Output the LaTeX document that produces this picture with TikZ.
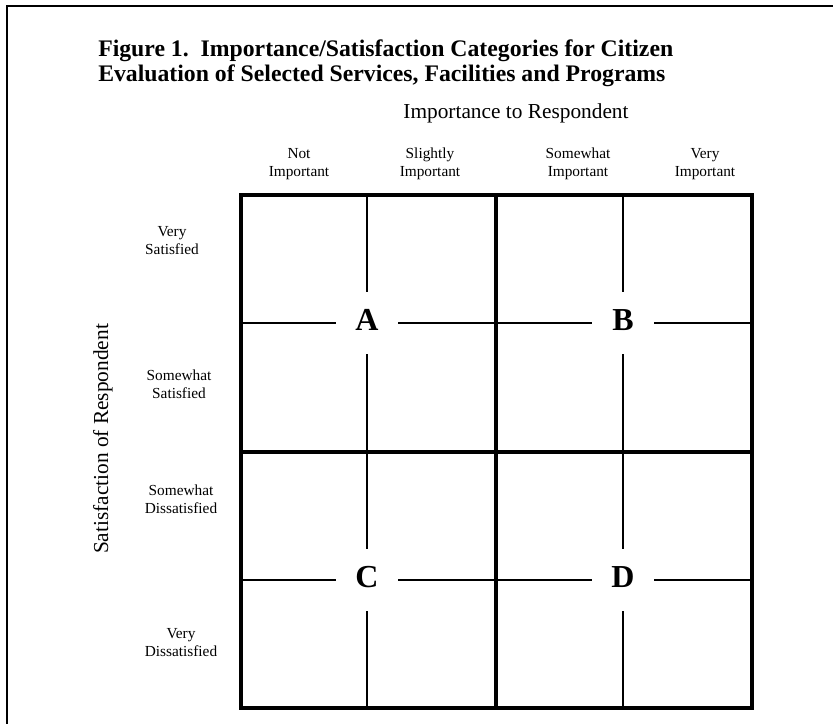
\documentclass[tikz,border=0pt]{standalone}
\usepackage{fontspec}
\setmainfont{Liberation Serif}
\usetikzlibrary{positioning, calc}

\begin{document}
\begin{tikzpicture}[
    x=0.75pt, y=-0.75pt,
    frame_line/.style={line width=1.6pt},
    grid_edge/.style={line width=2.8pt, line cap=rect},
    half_line/.style={line width=3pt},
    quarter_line/.style={line width=1.5pt},
    title_node/.style={font=\fontsize{17.8}{18}\selectfont\bfseries, anchor=base west, inner sep=0pt},
    axis_node/.style={font=\fontsize{16}{18}\selectfont, anchor=base, inner sep=0pt},
    level_node/.style={font=\fontsize{11.5}{13.5}\selectfont, align=center, inner sep=0pt},
    cat_node/.style={font=\fontsize{24}{24}\selectfont\bfseries, minimum size=46.5pt, inner sep=0pt, text depth=4pt},
]
    \useasboundingbox (0,0) rectangle (833,724);
    \fill[white] (0,0) rectangle (833,724);
    \draw[frame_line] (7,724) -- (7,6) -- (833,6);

    % heading
    \node[title_node] (title1) at (98,57) {Figure 1.\ \ Importance/Satisfaction Categories for Citizen};
    \node[title_node] (title2) at (98,82) {Evaluation of Selected Services, Facilities and Programs};

    % axis titles
    \node[axis_node] (imp_axis) at (516,118) {Importance to Respondent};
    \node[axis_node, rotate=90] (sat_axis) at (108,439) {Satisfaction of Respondent};

    % importance levels
    \node[level_node] (imp1) at (299,164) {Not\\Important};
    \node[level_node] (imp2) at (430,164) {Slightly\\Important};
    \node[level_node] (imp3) at (578,164) {Somewhat\\Important};
    \node[level_node] (imp4) at (705,164) {Very\\Important};

    % satisfaction levels
    \node[level_node] (sat1) at (172,241) {Very\\Satisfied};
    \node[level_node] (sat2) at (179,384) {Somewhat\\Satisfied};
    \node[level_node] (sat3) at (181,499) {Somewhat\\Dissatisfied};
    \node[level_node] (sat4) at (181,643) {Very\\Dissatisfied};

    % grid corners and quadrants
    \coordinate (g_nw) at (241,195);
    \coordinate (g_se) at (752,708);
    \coordinate (g_mid) at (496,452);
    \coordinate (qA_nw) at (241,195);  \coordinate (qA_se) at (496,452);
    \coordinate (qB_nw) at (496,195);  \coordinate (qB_se) at (752,452);
    \coordinate (qC_nw) at (241,452);  \coordinate (qC_se) at (496,708);
    \coordinate (qD_nw) at (496,452);  \coordinate (qD_se) at (752,708);

    \node[cat_node] (catA) at (367,323) {A};
    \node[cat_node] (catB) at (623,323) {B};
    \node[cat_node] (catC) at (367,580) {C};
    \node[cat_node] (catD) at (623,580) {D};

    % thin lines stop short of each letter
    \foreach \c in {A,B,C,D} {
        \draw[quarter_line] (cat\c.north) -- (cat\c.north |- q\c_nw);
        \draw[quarter_line] (cat\c.south) -- (cat\c.south |- q\c_se);
        \draw[quarter_line] (cat\c.west) -- (cat\c.west -| q\c_nw);
        \draw[quarter_line] (cat\c.east) -- (cat\c.east -| q\c_se);
    }

    \draw[half_line] (g_nw -| g_mid) -- (g_se -| g_mid);
    \draw[half_line] (g_nw |- g_mid) -- (g_se |- g_mid);
    \draw[grid_edge] (g_nw) rectangle (g_se);
\end{tikzpicture}
\end{document}
